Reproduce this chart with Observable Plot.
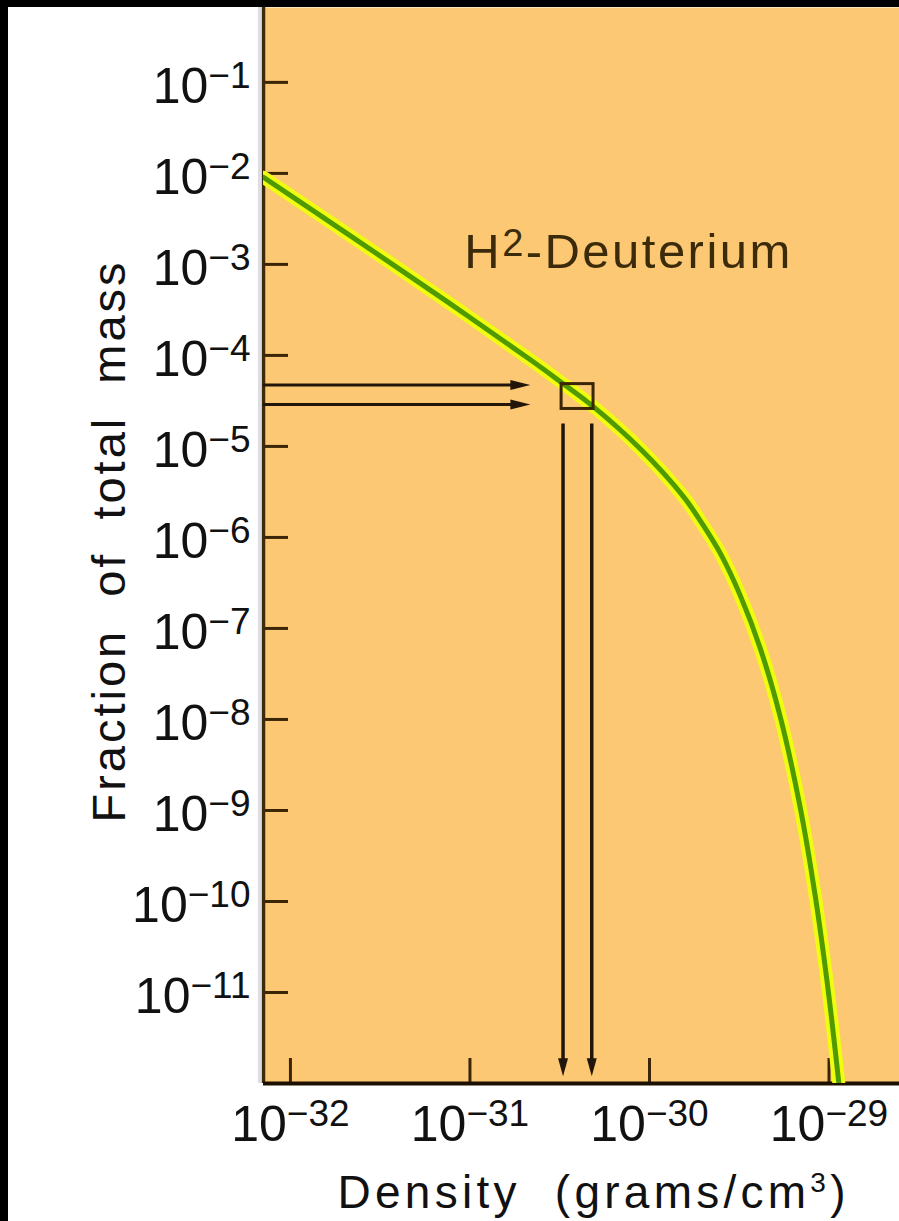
<!DOCTYPE html>
<html>
<head>
<meta charset="utf-8">
<script src="https://cdn.jsdelivr.net/npm/d3@7"></script>
<script src="https://cdn.jsdelivr.net/npm/@observablehq/plot@0.6"></script>
<style>
  html, body { margin: 0; padding: 0; background: #000; }
  #chart { position: absolute; left: 8px; top: 7px; width: 891px; height: 1214px; background: #fff; overflow: hidden; }
  #chart svg { display: block; }
</style>
</head>
<body>
<div id="chart"></div>
<script>
// ---- data ----
const densityDomain = [7.08e-33, 2.47e-29];      // grams/cm^3
const fractionDomain = [1e-12, 0.665];           // fraction of total mass

const densityTicks = [1e-32, 1e-31, 1e-30, 1e-29];
const densityTickLabels = ["10^{−32}", "10^{−31}", "10^{−30}", "10^{−29}"];

const fractionTicks = [1e-1, 1e-2, 1e-3, 1e-4, 1e-5, 1e-6, 1e-7, 1e-8, 1e-9, 1e-10, 1e-11];
const fractionTickLabels = ["10^{−1}", "10^{−2}", "10^{−3}", "10^{−4}", "10^{−5}", "10^{−6}",
                            "10^{−7}", "10^{−8}", "10^{−9}", "10^{−10}", "10^{−11}"];

// H2 (deuterium) curve
const density  = [7.08e-33, 2.16e-32, 7.78e-32, 2.17e-31, 3.19e-31, 4.94e-31, 8.91e-31, 1.55e-30,
                  1.92e-30, 2.49e-30, 3.21e-30, 4.15e-30, 5.37e-30, 6.93e-30, 8.41e-30, 9.93e-30, 1.135e-29];
const fraction = [9.06e-3, 2.06e-3, 3.68e-4, 8.95e-5, 5.15e-5, 2.67e-5, 9.35e-6, 2.79e-6,
                  1.52e-6, 6.59e-7, 2.28e-7, 5.97e-8, 1.04e-8, 1.05e-9, 1.10e-10, 1.0e-11, 1.0e-12];

// observed box
const boxDensity = [3.24e-31, 4.88e-31];
const boxFraction = [2.58e-5, 4.84e-5];

// arrows
const arrowFraction = [4.72e-5, 2.88e-5];   // horizontal arrows
const hArrowLineEnd = 1.8e-31;
const hArrowTip = 2.17e-31;
const arrowDensity = [3.30e-31, 4.77e-31];  // vertical arrows
const vArrowTop = 1.76e-5;
const vArrowLineEnd = 1.7e-12;
const vArrowTip = 1.2e-12;

const curveLabel = "H^{2}-Deuterium";
const curveLabelPos = {density: 9.3e-32, fraction: 9.1e-4};
const xTitle = "Density\u00a0 (grams/cm^{3})";
const yTitle = "Fraction\u00a0 of\u00a0 total\u00a0 mass";

// ---- styles ----
const FONT = "'Liberation Sans', Arial, Helvetica, sans-serif";
const ORANGE = "#fcc873";
const TICK = "#3a2606";
const AXIS_Y = "#3d2a0a";
const AXIS_SHADE = "#dcdce2";
const AXIS_X = "#1e1000";
const ARROW = "#22160a";
const BOX = "#3a2606";
const YELLOW = "#f0fc10";
const GREEN = "#4f9a00";
const TEXT = "#111111";
const LABEL = "#3b2b0b";

const W = 891, H = 1214, ML = 255, MB = 138;
const curve = density.map((d, i) => ({density: d, fraction: fraction[i]}));
const box = [{x1: boxDensity[0], x2: boxDensity[1], y1: boxFraction[0], y2: boxFraction[1]}];

const chart = Plot.plot({
  width: W, height: H,
  marginLeft: ML, marginRight: 0, marginTop: 0, marginBottom: MB,
  style: {background: "#ffffff", fontFamily: FONT, overflow: "visible"},
  x: {type: "log", domain: densityDomain, axis: null},
  y: {type: "log", domain: fractionDomain, axis: null},
  marks: [
    Plot.frame({fill: ORANGE, stroke: null}),
    Plot.tickY(fractionTicks, {y: d => d, stroke: TICK, strokeWidth: 3, insetRight: (W - ML) - 25}),
    Plot.tickX(densityTicks, {x: d => d, stroke: TICK, strokeWidth: 3, insetTop: (H - MB) - 25}),
    Plot.ruleX([densityDomain[0]], {x: d => d, dx: -4, stroke: AXIS_SHADE, strokeWidth: 3}),
    Plot.ruleX([densityDomain[0]], {x: d => d, stroke: AXIS_Y, strokeWidth: 3.5}),
    Plot.ruleY([fractionDomain[0]], {y: d => d, stroke: AXIS_X, strokeWidth: 4}),

    Plot.ruleY(arrowFraction, {y: d => d, x1: () => densityDomain[0], x2: () => hArrowLineEnd, stroke: ARROW, strokeWidth: 3}),
    Plot.vector(arrowFraction, {x: () => hArrowTip, y: d => d, rotate: 90, length: 20, r: 5, shape: "spike", anchor: "end", fill: ARROW, stroke: "none"}),
    Plot.ruleX(arrowDensity, {x: d => d, y1: () => vArrowTop, y2: () => vArrowLineEnd, stroke: ARROW, strokeWidth: 3.5}),
    Plot.vector(arrowDensity, {x: d => d, y: () => vArrowTip, rotate: 180, length: 18, r: 5, shape: "spike", anchor: "end", fill: ARROW, stroke: "none"}),

    Plot.line(curve, {x: "density", y: "fraction", stroke: YELLOW, strokeWidth: 13, curve: "catmull-rom", clip: true}),
    Plot.line(curve, {x: "density", y: "fraction", stroke: GREEN, strokeWidth: 5, curve: "catmull-rom", clip: true}),
    Plot.rect(box, {x1: "x1", x2: "x2", y1: "y1", y2: "y2", fill: "none", stroke: BOX, strokeWidth: 3}),

    Plot.text(fractionTicks, {y: d => d, frameAnchor: "left", text: (d, i) => fractionTickLabels[i],
      textAnchor: "end", lineAnchor: "bottom", dx: -13, dy: 20.5, fontSize: 50, fill: TEXT}),
    Plot.text(densityTicks, {x: d => d, frameAnchor: "bottom", text: (d, i) => densityTickLabels[i],
      textAnchor: "middle", lineAnchor: "bottom", dy: 57, fontSize: 50, fill: TEXT}),
    Plot.text([yTitle], {frameAnchor: "left", text: d => d, rotate: -90, textAnchor: "middle", lineAnchor: "middle",
      dx: -154, dy: -3, fontSize: 47, fill: TEXT}),
    Plot.text([xTitle], {frameAnchor: "bottom", text: d => d, textAnchor: "middle", lineAnchor: "bottom",
      dx: 10, dy: 124, fontSize: 46, fill: TEXT}),
    Plot.text([curveLabel], {x: () => curveLabelPos.density, y: () => curveLabelPos.fraction, text: d => d,
      textAnchor: "start", lineAnchor: "bottom", fontSize: 49, fill: LABEL})
  ]
});

document.getElementById("chart").appendChild(chart);

// superscripts as real tspans
const SVGNS = "http://www.w3.org/2000/svg";
function applySup(el, supSize, raise) {
  const s = el.textContent;
  if (s.indexOf("^{") < 0) return;
  const parts = s.split(/(\^\{[^}]*\})/).filter(p => p.length);
  el.textContent = "";
  let raised = false;
  for (const p of parts) {
    const t = document.createElementNS(SVGNS, "tspan");
    if (p.startsWith("^{")) {
      t.textContent = p.slice(2, -1);
      t.setAttribute("font-size", supSize);
      t.setAttribute("dy", -raise);
      raised = true;
    } else {
      t.textContent = p;
      if (raised) { t.setAttribute("dy", raise); raised = false; }
    }
    el.appendChild(t);
  }
}
function stretch(el, len) {
  el.setAttribute("textLength", len);
  el.setAttribute("lengthAdjust", "spacing");
}
chart.querySelectorAll("text").forEach(el => {
  const s = el.textContent;
  if (s.includes("Deuterium")) { applySup(el, 38, 12); stretch(el, 326); }
  else if (s.includes("Density")) { applySup(el, 28, 16); stretch(el, 508); }
  else if (s.includes("Fraction")) { stretch(el, 560); }
  else if (s.startsWith("10^{")) { applySup(el, 37, 15); }
});
</script>
</body>
</html>
